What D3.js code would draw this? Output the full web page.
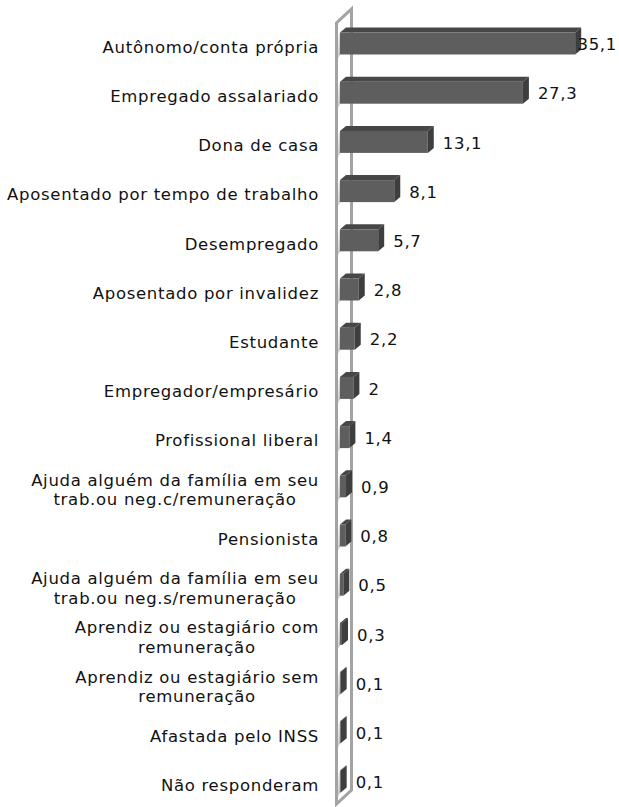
<!DOCTYPE html>
<html>
<head>
<meta charset="utf-8">
<script src="https://cdn.jsdelivr.net/npm/d3@7/dist/d3.min.js"></script>
<style>
  html, body { margin: 0; padding: 0; background: #fff; }
  svg { display: block; }
  text { font-family: "DejaVu Sans", sans-serif; fill: #111; letter-spacing: 0.7px; }
</style>
</head>
<body>
<svg id="chart" width="619" height="807"></svg>
<script>
// Occupation categories (each entry is a list of label lines)
const categories = [
  ["Autônomo/conta própria"],
  ["Empregado assalariado"],
  ["Dona de casa"],
  ["Aposentado por tempo de trabalho"],
  ["Desempregado"],
  ["Aposentado por invalidez"],
  ["Estudante"],
  ["Empregador/empresário"],
  ["Profissional liberal"],
  ["Ajuda alguém da família em seu", "trab.ou neg.c/remuneração"],
  ["Pensionista"],
  ["Ajuda alguém da família em seu", "trab.ou neg.s/remuneração"],
  ["Aprendiz ou estagiário com", "remuneração"],
  ["Aprendiz ou estagiário sem", "remuneração"],
  ["Afastada pelo INSS"],
  ["Não responderam"]
];
// Percentages
const values = [35.1, 27.3, 13.1, 8.1, 5.7, 2.8, 2.2, 2, 1.4, 0.9, 0.8, 0.5, 0.3, 0.1, 0.1, 0.1];
// Printed value labels
const valueLabels = ["35,1", "27,3", "13,1", "8,1", "5,7", "2,8", "2,2", "2", "1,4", "0,9", "0,8", "0,5", "0,3", "0,1", "0,1", "0,1"];

const W = 619, H = 807;
const svg = d3.select("#chart");

const ids = categories.map((c, i) => i);
const y = d3.scalePoint().domain(ids).range([47, 785]);
const x = d3.scaleLinear().domain([0, 40]).range([340, 608]);

// 3D depth of the bars and of the side wall
const dx = 6, dy = -5;
const barH = 22;
const wall = { fx: 336.5, bx: 351.5, top: 23, bottom: 804, wdy: -14 };

const defs = svg.append("defs");
const grad = defs.append("linearGradient")
  .attr("id", "wallShade")
  .attr("x1", "100%").attr("y1", "100%")
  .attr("x2", "0%").attr("y2", "0%");
grad.append("stop").attr("offset", "0%").attr("stop-color", "#8e8e8e");
grad.append("stop").attr("offset", "50%").attr("stop-color", "#d4d4d4");
grad.append("stop").attr("offset", "100%").attr("stop-color", "#ffffff");

// Side wall (floor of the 3D bar chart)
const gWall = svg.append("g");
gWall.append("path")
  .attr("d", `M${wall.fx},${wall.top} L${wall.bx},${wall.top + wall.wdy} L${wall.bx},${wall.bottom + wall.wdy} L${wall.fx},${wall.bottom} Z`)
  .attr("fill", "#fff");

// Soft shading cast on the wall next to each bar
gWall.selectAll("path.shade")
  .data(ids)
  .join("path")
  .attr("class", "shade")
  .attr("d", i => {
    const t = y(i) - 14.5;
    const x0 = wall.fx + 1.5, x1 = x(0);
    return `M${x0},${t + 4} L${x1},${t} L${x1},${t + barH} L${x0},${t + barH + 4} Z`;
  })
  .attr("fill", "url(#wallShade)")
  .attr("opacity", 0.85);

gWall.append("path")
  .attr("d", `M${wall.fx},${wall.bottom} L${wall.fx},${wall.top} L${wall.bx},${wall.top + wall.wdy} L${wall.bx},${wall.bottom + wall.wdy} Z`)
  .attr("fill", "none")
  .attr("stroke", "#a3a3a3")
  .attr("stroke-width", 3)
  .attr("stroke-linejoin", "miter");

// Bars drawn as boxes: front, top and right side faces
const bars = svg.append("g").selectAll("g.bar")
  .data(ids)
  .join("g")
  .attr("class", "bar");

bars.append("path")
  .attr("d", i => {
    const t = y(i) - 14.5, x0 = x(0), x1 = x(values[i]);
    return `M${x0},${t} L${x0 + dx},${t + dy} L${x1 + dx},${t + dy} L${x1},${t} Z`;
  })
  .attr("fill", "#474747");

bars.append("rect")
  .attr("x", x(0))
  .attr("y", i => y(i) - 14.5)
  .attr("width", i => x(values[i]) - x(0))
  .attr("height", barH)
  .attr("fill", "#5e5e5e");

bars.append("path")
  .attr("d", i => {
    const t = y(i) - 14.5, x1 = x(values[i]);
    return `M${x1},${t} L${x1 + dx},${t + dy} L${x1 + dx},${t + dy + barH} L${x1},${t + barH} Z`;
  })
  .attr("fill", "#3e3e3e");

// Value labels
const vl = svg.append("g").selectAll("text.val")
  .data(ids)
  .join("text")
  .attr("class", "val")
  .attr("font-size", 16.5)
  .attr("y", i => y(i) - 2.5)
  .attr("dy", "0.35em")
  .text(i => valueLabels[i]);
vl.attr("x", function(i) {
  const w = this.getComputedTextLength();
  return Math.min(x(values[i]) + dx + 9, W - 2 - w);
});

// Category labels: right-aligned block, wrapped lines centred within it
const labelRight = 319;
const cl = svg.append("g").selectAll("text.cat")
  .data(ids)
  .join("text")
  .attr("class", "cat")
  .attr("font-size", 16.5)
  .attr("text-anchor", "middle");
cl.each(function(i) {
  const lines = categories[i];
  const lh = 19.5;
  const y0 = y(i) - (lines.length - 1) * lh / 2;
  const spans = d3.select(this).selectAll("tspan")
    .data(lines)
    .join("tspan")
    .attr("y", (d, k) => y0 + k * lh)
    .attr("dy", "0.35em")
    .text(d => d);
  let maxW = 0;
  spans.each(function() { maxW = Math.max(maxW, this.getComputedTextLength()); });
  spans.attr("x", labelRight - maxW / 2);
});
</script>
</body>
</html>
